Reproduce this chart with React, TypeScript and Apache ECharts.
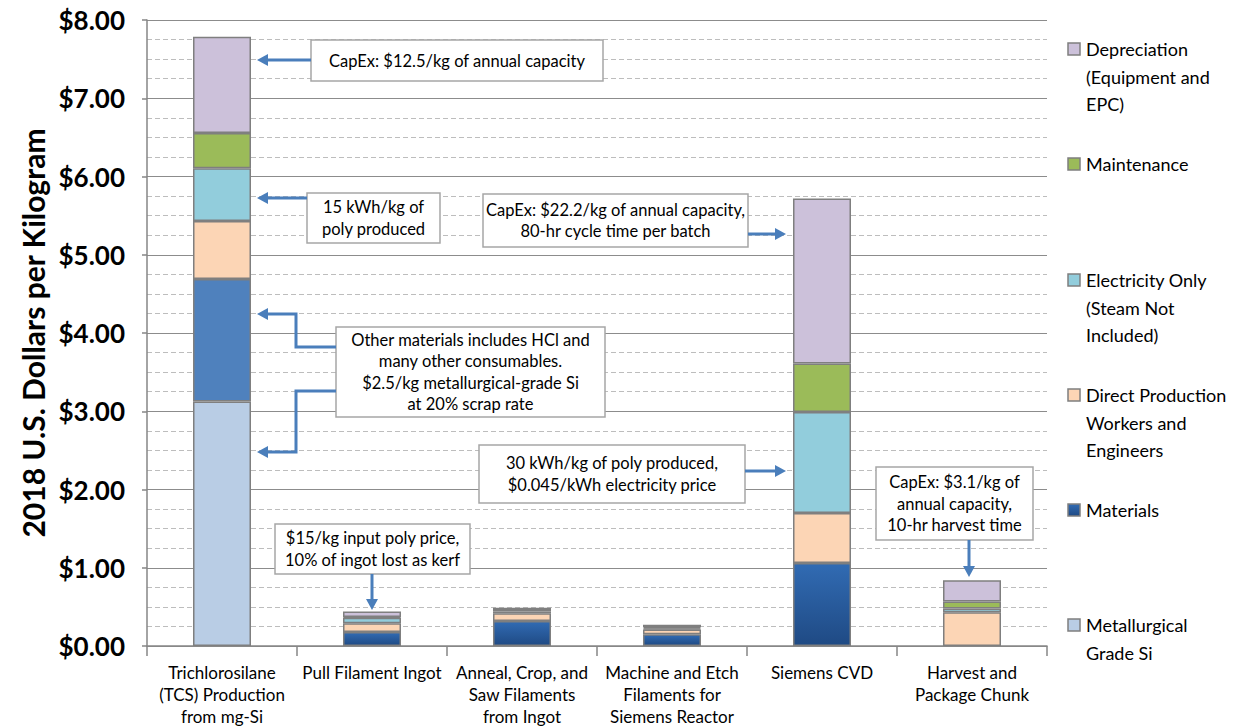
import React, { useEffect, useRef } from "react";
import * as echarts from "echarts";

// Process steps along the x axis
const categories = [
  "Trichlorosilane\n(TCS) Production\nfrom mg-Si",
  "Pull Filament Ingot",
  "Anneal, Crop, and\nSaw Filaments\nfrom Ingot",
  "Machine and Etch\nFilaments for\nSiemens Reactor",
  "Siemens CVD",
  "Harvest and\nPackage Chunk",
];

// Cost components, $/kg, bottom of the stack first
const metallurgicalSi = [3.125, 0, 0, 0, 0, 0];
const materials = [1.565, 0.18, 0.32, 0.15, 1.06, 0];
const labor = [0.74, 0.11, 0.1, 0.06, 0.64, 0.43];
const electricity = [0.675, 0.07, 0.02, 0.015, 1.29, 0.05];
const maintenance = [0.45, 0.01, 0.02, 0.015, 0.62, 0.09];
const depreciation = [1.23, 0.07, 0.03, 0.03, 2.11, 0.27];

const yMin = 0;
const yMax = 8;
const yStep = 1;

const seriesNames = [
  "Metallurgical Grade Si",
  "Materials",
  "Direct Production Workers and Engineers",
  "Electricity Only (Steam Not Included)",
  "Maintenance",
  "Depreciation (Equipment and EPC)",
];
const legendLabels = [
  "Metallurgical\nGrade Si",
  "Materials",
  "Direct Production\nWorkers and\nEngineers",
  "Electricity Only\n(Steam Not\nIncluded)",
  "Maintenance",
  "Depreciation\n(Equipment and\nEPC)",
];

const FONT = "Lato, 'Open Sans', sans-serif";
const BORDER = "#7f7f7f";
const ARROW = "#4a7ebb";

const materialsGradient = new echarts.graphic.LinearGradient(0, 0, 0, 1, [
  { offset: 0, color: "#316bb3" },
  { offset: 1, color: "#1f4a84" },
]);

const seriesColors: any[] = [
  "#b9cde5",
  materialsGradient,
  "#fcd5b5",
  "#92cddc",
  "#9bbb59",
  "#ccc1da",
];

const seriesValues = [metallurgicalSi, materials, labor, electricity, maintenance, depreciation];

function arrow(points: number[][]) {
  const [x1, y1] = points[points.length - 2];
  const [x2, y2] = points[points.length - 1];
  const len = Math.hypot(x2 - x1, y2 - y1);
  const ux = (x2 - x1) / len;
  const uy = (y2 - y1) / len;
  const headLen = 11;
  const headW = 6;
  const bx = x2 - ux * headLen;
  const by = y2 - uy * headLen;
  const linePts = points.slice(0, -1).concat([[bx + ux * 2, by + uy * 2]]);
  return [
    {
      type: "polyline",
      z: 20,
      shape: { points: linePts },
      style: { stroke: ARROW, lineWidth: 3, fill: null },
    },
    {
      type: "polygon",
      z: 20,
      shape: {
        points: [
          [x2, y2],
          [bx - uy * headW, by + ux * headW],
          [bx + uy * headW, by - ux * headW],
        ],
      },
      style: { fill: ARROW, stroke: null },
    },
  ];
}

function callout(x: number, y: number, w: number, h: number, text: string) {
  return [
    {
      type: "rect",
      z: 15,
      shape: { x, y, width: w, height: h },
      style: { fill: "#ffffff", stroke: "#a6a6a6", lineWidth: 1.5 },
    },
    {
      type: "text",
      z: 16,
      style: {
        text,
        x: x + w / 2,
        y: y + h / 2,
        align: "center",
        verticalAlign: "middle",
        fontFamily: FONT,
        fontSize: 16.5,
        lineHeight: 21.5,
        fill: "#000000",
      },
    },
  ];
}

function legendItems() {
  const order = [5, 4, 3, 2, 1, 0];
  const tops = [49, 164, 280, 395, 510, 625];
  const out: any[] = [];
  order.forEach((si, i) => {
    const cy = tops[i];
    out.push({
      type: "rect",
      z: 10,
      shape: { x: 1068, y: cy - 6, width: 12, height: 12 },
      style: { fill: seriesColors[si], stroke: BORDER, lineWidth: 1.5 },
    });
    out.push({
      type: "text",
      z: 10,
      style: {
        text: legendLabels[si],
        x: 1086,
        y: cy - 13.75,
        align: "left",
        verticalAlign: "top",
        fontFamily: FONT,
        fontSize: 18,
        lineHeight: 27.5,
        fill: "#000000",
      },
    });
  });
  return out;
}

export default function App() {
  const ref = useRef<HTMLDivElement>(null);

  useEffect(() => {
    if (!ref.current) return;
    const chart = echarts.init(ref.current, null, { renderer: "svg" });

    const series = seriesValues.map((vals, si) => ({
      name: seriesNames[si],
      type: "bar",
      stack: "cost",
      barWidth: 58,
      itemStyle: {
        color: seriesColors[si],
        borderColor: BORDER,
        borderWidth: 1.5,
      },
      data: vals.map((v, ci) => {
        if (v === 0) return "-";
        if (si === 1 && ci === 0) {
          return { value: v, itemStyle: { color: "#4f81bd" } };
        }
        return v;
      }),
    }));

    const graphics: any[] = [
      ...callout(311, 40, 292, 41, "CapEx: $12.5/kg of annual capacity"),
      ...arrow([[311, 60], [257, 60]]),
      ...callout(307, 193, 133, 50, "15 kWh/kg of\npoly produced"),
      ...arrow([[307, 198], [257, 198]]),
      ...callout(483, 194, 265, 53, "CapEx: $22.2/kg of annual capacity,\n80-hr cycle time per batch"),
      ...arrow([[748, 234], [786, 234]]),
      ...callout(
        336,
        327,
        269,
        90,
        "Other materials includes HCl and\nmany other consumables.\n$2.5/kg metallurgical-grade Si\nat 20% scrap rate"
      ),
      ...arrow([[336, 347], [296, 347], [296, 314], [257, 314]]),
      ...arrow([[336, 391], [296, 391], [296, 452], [257, 452]]),
      ...callout(479, 445, 266, 58, "30 kWh/kg of poly produced,\n$0.045/kWh electricity price"),
      ...arrow([[745, 471], [786, 471]]),
      ...callout(275, 524, 195, 50, "$15/kg input poly price,\n10% of ingot lost as kerf"),
      ...arrow([[372, 574], [372, 610]]),
      ...callout(876, 467, 157, 73, "CapEx: $3.1/kg of\nannual capacity,\n10-hr harvest time"),
      ...arrow([[969, 540], [969, 577]]),
      ...legendItems(),
    ];

    chart.setOption({
      animation: false,
      backgroundColor: "#ffffff",
      textStyle: { fontFamily: FONT },
      legend: { show: false, data: seriesNames },
      grid: { left: 147, right: 203, top: 20, bottom: 81, containLabel: false },
      xAxis: {
        type: "category",
        data: categories,
        axisLine: { show: true, lineStyle: { color: "#868686", width: 1.5 } },
        axisTick: { show: true, alignWithLabel: false, length: 10, lineStyle: { color: "#868686", width: 1.5 } },
        axisLabel: {
          interval: 0,
          margin: 15,
          fontFamily: "'Liberation Sans Narrow', " + FONT,
          fontSize: 17,
          lineHeight: 22,
          color: "#000000",
          align: "center",
        },
      },
      yAxis: {
        type: "value",
        min: yMin,
        max: yMax,
        interval: yStep,
        name: "2018 U.S. Dollars per Kilogram",
        nameLocation: "middle",
        nameGap: 96,
        nameTextStyle: { fontFamily: FONT, fontSize: 30, fontWeight: "bold", color: "#000000" },
        axisLine: { show: true, lineStyle: { color: "#868686", width: 1.5 } },
        axisTick: { show: true, length: 5, lineStyle: { color: "#868686", width: 1.5 } },
        axisLabel: {
          margin: 22,
          fontFamily: FONT,
          fontSize: 26,
          fontWeight: "bold",
          color: "#000000",
          formatter: (v: number) => "$" + v.toFixed(2),
        },
        splitLine: { show: true, lineStyle: { color: "#8c8c8c", width: 1.2 } },
        minorTick: { show: false, splitNumber: 4 },
        minorSplitLine: { show: true, lineStyle: { color: "#bdbdbd", type: [5, 3], width: 1 } },
      },
      series,
      graphic: graphics,
    });

    return () => chart.dispose();
  }, []);

  return (
    <div
      ref={ref}
      style={{ position: "absolute", left: 0, top: 0, width: 1250, height: 727 }}
    />
  );
}
